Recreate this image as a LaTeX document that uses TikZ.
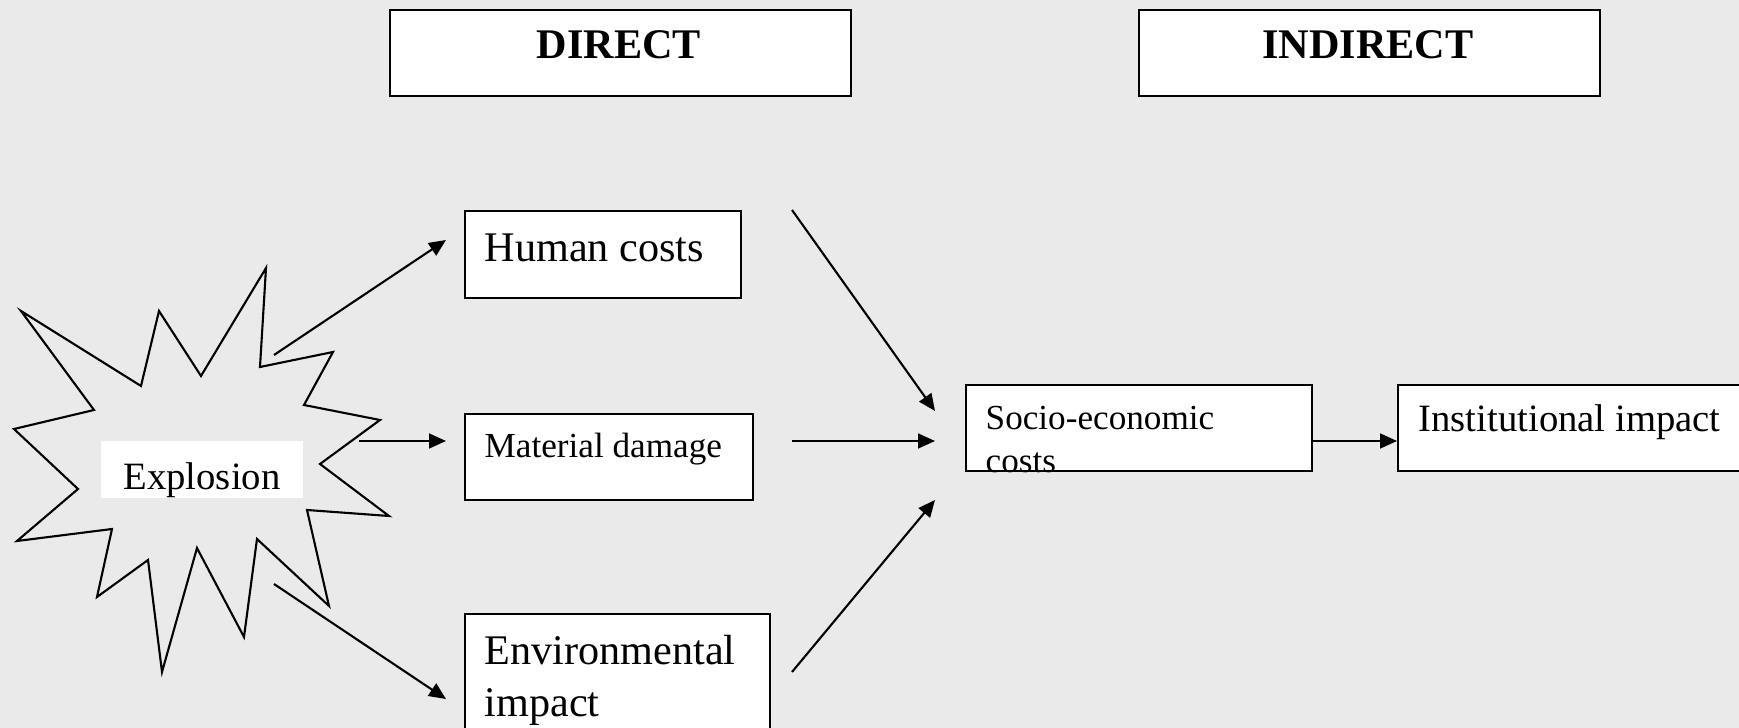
\documentclass[tikz,border=0pt]{standalone}
\usepackage{fontspec}
\setmainfont{Liberation Serif}
\usetikzlibrary{arrows.meta}
\definecolor{bggrey}{RGB}{234,234,234}

\begin{document}
\begin{tikzpicture}[x=0.01cm, y=-0.01cm,
            box/.style={draw, fill=white, line width=0.6pt, inner sep=0pt, anchor=north west},
            txt/.style={inner sep=0pt, anchor=base west, align=left},
            head/.style={inner sep=0pt, anchor=base, font=\bfseries\fontsize{12}{14}\selectfont},
            burst/.style={draw, line width=0.6pt, line join=miter},
            arrow/.style={-{Triangle[length=4.8pt,width=4.2pt]}, line width=0.6pt}
        ]
            \useasboundingbox (0,0) rectangle (1739,728);
            \fill[bggrey] (0,0) rectangle (1739,728);
            \clip (0,0) rectangle (1739,728);

            % headings
            \node[box, minimum width=4.61cm, minimum height=0.86cm] (direct) at (389,9) {};
            \node[box, minimum width=4.61cm, minimum height=0.86cm] (indirect) at (1138,9) {};
            \node[head] (directtxt) at (619,59) {DIRECT};
            \node[head] (indirecttxt) at (1368,59) {INDIRECT};

            % explosion
            \draw[burst] (21,311) -- (141,386) -- (159,311) -- (201,376) -- (266,268)
                -- (260,367) -- (333,352) -- (304,405) -- (380,420) -- (320,464)
                -- (389,516) -- (307,510) -- (329,606) -- (257,539) -- (244,637)
                -- (197,548) -- (162,672) -- (148,560) -- (97,597) -- (112,529)
                -- (17,541) -- (78,489) -- (14,429) -- (94,410) -- cycle;
            \node[fill=white, inner sep=0pt, minimum width=2.02cm, text height=13.66pt, text depth=2.56pt,
                  font=\fontsize{11}{13}\selectfont] (expl) at (202,469.5) {Explosion};

            % direct effects
            \node[box, minimum width=2.76cm, minimum height=0.87cm] (hum) at (464,210) {};
            \node[box, minimum width=2.88cm, minimum height=0.86cm] (mat) at (464,413) {};
            \node[box, minimum width=3.05cm, minimum height=1.30cm] (env) at (464,613) {};
            \node[txt, font=\fontsize{12}{14}\selectfont] (humtxt) at (484,262) {Human costs};
            \node[txt, font=\fontsize{10}{12}\selectfont] (mattxt) at (484,458) {Material damage};
            \node[txt, font=\fontsize{12}{14.8}\selectfont] (envtxt) at (484,717) {Environmental\\impact};

            % indirect effects
            \node[box, minimum width=3.46cm, minimum height=0.86cm] (soc) at (965,384) {};
            \node[box, minimum width=3.80cm, minimum height=0.86cm] (inst) at (1397,384) {};
            \node[txt, font=\fontsize{10}{12.5}\selectfont] (soctxt) at (985,473) {Socio-economic\\costs};
            \node[txt, font=\fontsize{11}{13}\selectfont] (insttxt) at (1418,432) {Institutional impact};

            % connector ends
            \coordinate (burstNE) at (274,355);
            \coordinate (burstE) at (359,441);
            \coordinate (burstSE) at (274,584);
            \coordinate (humIn) at (446,240);
            \coordinate (matIn) at (446,441);
            \coordinate (envIn) at (446,699);
            \coordinate (humOut) at (792,210);
            \coordinate (matOut) at (792,441);
            \coordinate (envOut) at (792,672);
            \coordinate (socA) at (935,411);
            \coordinate (socB) at (935,441);
            \coordinate (socC) at (935,500);

            \draw[arrow] (burstNE) -- (humIn);
            \draw[arrow] (burstE) -- (matIn);
            \draw[arrow] (burstSE) -- (envIn);
            \draw[arrow] (humOut) -- (socA);
            \draw[arrow] (matOut) -- (socB);
            \draw[arrow] (envOut) -- (socC);
            \draw[arrow] (soc.east |- socB) -- (inst.west |- socB);
        \end{tikzpicture}
\end{document}
